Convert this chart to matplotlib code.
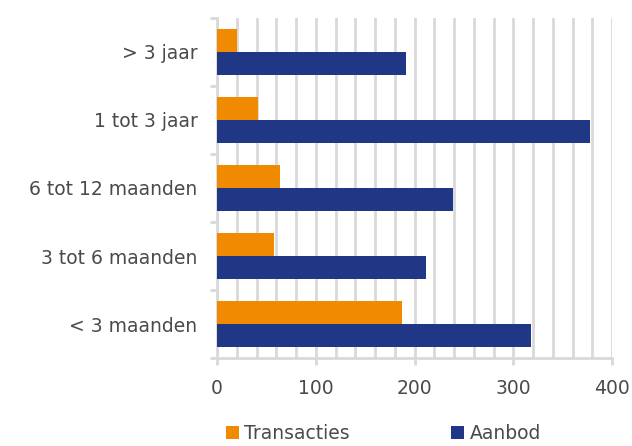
import numpy as np
import matplotlib.pyplot as plt
from matplotlib.ticker import MultipleLocator

# Data (bottom to top)
categories = ["< 3 maanden", "3 tot 6 maanden", "6 tot 12 maanden", "1 tot 3 jaar", "> 3 jaar"]
transacties = [187, 58, 64, 41, 20]
aanbod = [318, 212, 239, 378, 191]

orange = "#F08A00"
blue = "#1F3784"
grid_col = "#D9D9D9"
text_col = "#4A4A4A"

plt.rcParams['font.family'] = ['DejaVu Sans']

fig = plt.figure(figsize=(6.32, 4.46), dpi=100)
ax = fig.add_axes([0.3434, 0.197, 0.625, 0.763])

y = np.arange(len(categories))
h = 0.34
ax.barh(y + h / 2, transacties, height=h, color=orange, label="Transacties", zorder=3)
ax.barh(y - h / 2, aanbod, height=h, color=blue, label="Aanbod", zorder=3)

ax.set_xlim(0, 400)
ax.set_ylim(-0.5, len(categories) - 0.5)
ax.xaxis.set_major_locator(MultipleLocator(100))
ax.xaxis.set_minor_locator(MultipleLocator(20))
ax.grid(True, axis='x', which='both', color=grid_col, linewidth=2, zorder=0)

ax.set_yticks(y)
ax.set_yticklabels(categories)
ax.set_yticks(np.arange(-0.5, len(categories)), minor=True)
ax.tick_params(axis='y', which='major', length=0, pad=14, labelsize=13.5, labelcolor=text_col)
ax.tick_params(axis='y', which='minor', length=5, width=2, color=grid_col, direction='out')
ax.tick_params(axis='x', which='major', length=5, width=2, color=grid_col, pad=10,
               labelsize=13.5, labelcolor=text_col)
ax.tick_params(axis='x', which='minor', length=0)

for s in ['top', 'right']:
    ax.spines[s].set_visible(False)
for s in ['left', 'bottom']:
    ax.spines[s].set_color(grid_col)
    ax.spines[s].set_linewidth(2)

fig.legend(loc='center', bbox_to_anchor=(0.607, 0.028), ncol=2, frameon=False,
           fontsize=13.5, labelcolor=text_col, handlelength=0.7, handleheight=0.7,
           handletextpad=0.3, columnspacing=5.4)

fig.savefig("out.png", dpi=100)
